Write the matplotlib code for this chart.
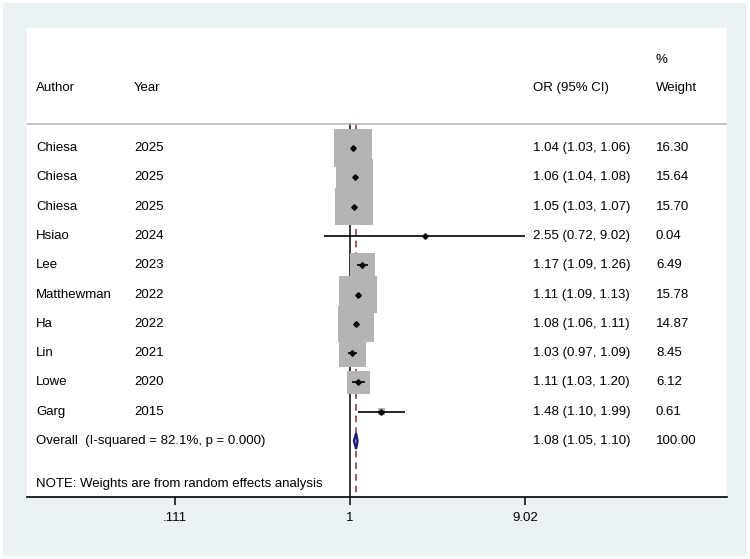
import numpy as np
import matplotlib
matplotlib.use("Agg")
import matplotlib.pyplot as plt
from matplotlib.patches import Rectangle

# ---- data ----
authors = ['Chiesa', 'Chiesa', 'Chiesa', 'Hsiao', 'Lee', 'Matthewman', 'Ha', 'Lin', 'Lowe', 'Garg']
years = ['2025', '2025', '2025', '2024', '2023', '2022', '2022', '2021', '2020', '2015']
or_est = [1.04, 1.06, 1.05, 2.55, 1.17, 1.11, 1.08, 1.03, 1.11, 1.48]
ci_low = [1.03, 1.04, 1.03, 0.72, 1.09, 1.09, 1.06, 0.97, 1.03, 1.10]
ci_high = [1.06, 1.08, 1.07, 9.02, 1.26, 1.13, 1.11, 1.09, 1.20, 1.99]
weights = [16.30, 15.64, 15.70, 0.04, 6.49, 15.78, 14.87, 8.45, 6.12, 0.61]
overall_est, overall_low, overall_high = 1.08, 1.05, 1.10
overall_label = 'Overall  (I-squared = 82.1%, p = 0.000)'
note = 'NOTE: Weights are from random effects analysis'
xticks = [0.111, 1, 9.02]
xtick_labels = ['.111', '1', '9.02']

plt.rcParams['font.family'] = ['Liberation Sans', 'DejaVu Sans']
FS = 9.5
BG = '#EAF2F3'

W, H = 750, 559
fig = plt.figure(figsize=(W / 100, H / 100), dpi=100, facecolor='white')
fig.patches.append(Rectangle((3 / W, 3 / H), 744 / W, 553 / H, transform=fig.transFigure,
                             facecolor=BG, edgecolor='none', zorder=-10))

L, R, T, B = 27, 727, 28, 497
ax = fig.add_axes([L / W, 1 - B / H, (R - L) / W, (B - T) / H])
ax.set_facecolor('white')

# x scale: log, 1 at px 350, 79.6 px per ln unit
x0, ppl = 350, 79.6
ax.set_xscale('log')
ax.set_xlim(np.exp((L - x0) / ppl), np.exp((R - x0) / ppl))
# y: rows
y0, dy = 148, 29.3
ax.set_ylim((B - y0) / dy, (T - y0) / dy)

n = len(authors)
rows = np.arange(n)
ov_row = n
sep_y = (124 - y0) / dy

# reference lines
ax.plot([1, 1], [sep_y, (B - y0) / dy], color='black', lw=1.1, zorder=1)
ax.plot([overall_est, overall_est], [sep_y, (B - y0) / dy], color='#9B3B3B', lw=1.2,
        ls=(0, (4, 3)), zorder=1)
# separator
ax.axhline(sep_y, color='#B8B8B8', lw=1.2, zorder=1)

# weight boxes
ax.scatter(or_est, rows, s=[46.5 * w for w in weights], marker='s', color='#B4B4B4',
           linewidths=0, zorder=2)
# CIs
ax.hlines(rows, ci_low, ci_high, color='black', lw=1.2, zorder=3)
ax.plot(or_est, rows, ls='none', marker='D', ms=2.8, color='black', zorder=4)

# overall diamond
h = 8 / dy
ax.fill([overall_low, overall_est, overall_high, overall_est],
        [ov_row, ov_row - h, ov_row, ov_row + h], facecolor='#9A9AD0',
        edgecolor='#1A1A80', lw=1.6, zorder=4)

# text columns
tr = ax.get_yaxis_transform()
cx = lambda px: (px - L) / (R - L)
hdr_y = (88 - y0) / dy
pct_y = (60 - y0) / dy
ax.text(cx(36), hdr_y, 'Author', transform=tr, fontsize=FS, va='center')
ax.text(cx(134), hdr_y, 'Year', transform=tr, fontsize=FS, va='center')
ax.text(cx(533), hdr_y, 'OR (95% CI)', transform=tr, fontsize=FS, va='center')
ax.text(cx(656), hdr_y, 'Weight', transform=tr, fontsize=FS, va='center')
ax.text(cx(656), pct_y, '%', transform=tr, fontsize=FS, va='center')
for i in range(n):
    ax.text(cx(36), rows[i], authors[i], transform=tr, fontsize=FS, va='center')
    ax.text(cx(134), rows[i], years[i], transform=tr, fontsize=FS, va='center')
    ax.text(cx(533), rows[i], f'{or_est[i]:.2f} ({ci_low[i]:.2f}, {ci_high[i]:.2f})',
            transform=tr, fontsize=FS, va='center')
    ax.text(cx(656), rows[i], f'{weights[i]:.2f}', transform=tr, fontsize=FS, va='center')
ax.text(cx(36), ov_row, overall_label, transform=tr, fontsize=FS, va='center')
ax.text(cx(533), ov_row, f'{overall_est:.2f} ({overall_low:.2f}, {overall_high:.2f})',
        transform=tr, fontsize=FS, va='center')
ax.text(cx(656), ov_row, f'{sum(weights):.2f}', transform=tr, fontsize=FS, va='center')
ax.text(cx(36), (484 - y0) / dy, note, transform=tr, fontsize=FS, va='center')

# axes styling
for s in ['top', 'left', 'right']:
    ax.spines[s].set_visible(False)
ax.spines['bottom'].set_color('black')
ax.spines['bottom'].set_linewidth(1.2)
ax.set_yticks([])
ax.set_xticks(xticks)
ax.set_xticklabels(xtick_labels)
ax.xaxis.set_minor_locator(matplotlib.ticker.NullLocator())
ax.tick_params(axis='x', length=5.5, width=1.1, pad=5, labelsize=FS, color='black')

fig.savefig('out.png', dpi=100, facecolor=fig.get_facecolor())
